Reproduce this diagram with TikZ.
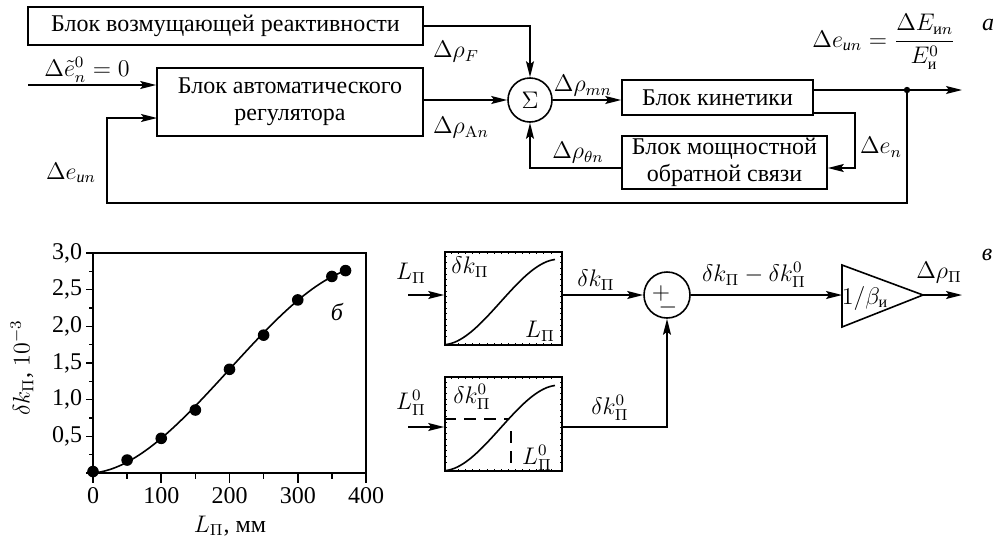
\documentclass[tikz,border=0pt]{standalone}
\usepackage{amsmath}
\usepackage[no-math]{fontspec}
\setmainfont{Liberation Serif}
\usetikzlibrary{arrows.meta,fit,calc}
\begin{document}
\begin{tikzpicture}[x=0.5pt,y=-0.5pt,
  font=\fontsize{12}{13.5}\selectfont,
  line width=0.8pt,
  >={Stealth[length=8pt,width=4pt,inset=1.5pt]},
  blk/.style={draw, inner sep=0pt},
  txt/.style={inner sep=0pt, align=center},
  lbl/.style={inner sep=0pt},
  sumc/.style={draw, circle, minimum size=22pt, inner sep=0pt},
  dashln/.style={line width=1.1pt, dash pattern=on 6pt off 4pt},
  tk/.style={line width=0.4pt}]
\useasboundingbox (0,0) rectangle (999,541);

% ---------------- part a ----------------
\node[blk, fit={(28,7) (423,45)}] (b1) {};
\node[txt] (b1t) at (b1.center) {Блок возмущающей реактивности};
\node[blk, fit={(157,68) (423,136)}] (b2) {};
\node[txt] (b2t) at (b2.center) {Блок автоматического\\регулятора};
\node[sumc] (s) at (530,100) {$\Sigma$};
\node[blk, fit={(622,80) (813,115)}] (b3) {};
\node[txt] (b3t) at (b3.center) {Блок кинетики};
\node[blk, fit={(622,136) (827,189)}] (b4) {};
\node[txt] (b4t) at (b4.center) {Блок мощностной\\обратной связи};

\coordinate (in1) at (28,85);
\coordinate (J) at (907,90);
\coordinate (out1) at (962,90);
\coordinate (fbR) at (907,203);
\coordinate (fbL) at (107,203);
\coordinate (fbin) at (157,118);
\coordinate (k1) at (855,113);
\coordinate (k2) at (855,168);
\coordinate (m1) at (530,168);

\draw[->] (b1.east) -| (s.north);
\draw[->] (in1) -- (in1 -| b2.west);
\draw[->] (J) -- (fbR) -- (fbL) |- (fbin);
\draw[->] (b2.east |- s.west) -- (s.west);
\draw[->] (s.east) -- (s.east -| b3.west);
\draw[->] (b3.east |- J) -- (out1);
\fill (J) circle (1.6pt);
\draw[->] (b3.east |- k1) -- (k1) -- (k2) -- (k2 -| b4.east);
\draw[->] (k2 -| b4.west) -- (m1) -- (s.south);

\node[lbl] (lF) at (456,52) {$\Delta\rho_F$};
\node[lbl] (lE0) at (87,70) {$\Delta\tilde e_n^0 = 0$};
\node[lbl] (lEin) at (71,173) {$\Delta e_{\text{\itshape и}n}$};
\node[lbl] (lA) at (461,128) {$\Delta\rho_{\mathrm{A}n}$};
\node[lbl] (lm) at (583,86) {$\Delta\rho_{mn}$};
\node[lbl] (lth) at (578,153) {$\Delta\rho_{\theta n}$};
\node[lbl] (len) at (881,147) {$\Delta e_n$};
\node[lbl] (lfr) at (884,42) {$\Delta e_{\text{\itshape и}n} = \dfrac{\Delta E_{\text{и}n}}{E^0_{\text{и}}}$};
\node[lbl] (la) at (988,25) {\itshape а};

% ---------------- part b ----------------
\begin{scope}[shift={(93,473)}, x=0.34125pt, y=36.667pt]
  \draw (0,0) rectangle (400,3);
  \foreach \v in {0,0.5,...,3} \draw (0,\v) -- ++(-3.5pt,0);
  \foreach \v in {0.25,0.75,...,2.75} \draw (0,\v) -- ++(-2pt,0);
  \foreach \u in {0,100,...,400} \draw (\u,0) -- ++(0,-5pt);
  \foreach \u in {50,150,...,350} \draw (\u,0) -- ++(0,-3pt);
  \foreach \u in {0,100,...,400} \node[lbl, anchor=north] at ([yshift=-7pt]\u,0) {\u};
  \node[lbl, anchor=east] (y05) at ([xshift=-5pt]0,0.5) {0,5};
  \node[lbl, anchor=east] (y10) at ([xshift=-5pt]0,1) {1,0};
  \node[lbl, anchor=east] (y15) at ([xshift=-5pt]0,1.5) {1,5};
  \node[lbl, anchor=east] (y20) at ([xshift=-5pt]0,2) {2,0};
  \node[lbl, anchor=east] (y25) at ([xshift=-5pt]0,2.5) {2,5};
  \node[lbl, anchor=east] (y30) at ([xshift=-5pt]0,3) {3,0};
  \draw plot[domain=4:370, samples=70, smooth] (\x, {0.0827*\x/100 + 0.4685*(\x/100)^2 - 0.07818*(\x/100)^3});
  \foreach \p in {(0,0.02),(50,0.177),(100,0.473),(150,0.859),(200,1.414),(250,1.88),(300,2.36),(350,2.68),(370,2.76)}
    \fill \p circle (2.9pt);
\end{scope}
\node[lbl, rotate=90] (ylab) at (22,368) {$\delta k_\Pi$, $10^{-3}$};
\node[lbl] (xlab) at (230,526) {$L_\Pi$, мм};
\node[lbl] (lb) at (337,312) {\itshape б};

% ---------------- part v ----------------
\node[blk, fit={(445,252) (562,345)}] (pb1) {};
\node[blk, fit={(445,377) (562,471)}] (pb2) {};
\foreach \B in {pb1,pb2}{
  \foreach \t in {0.06,0.12,...,0.95}{
    \draw[tk] ($(\B.north west)!\t!(\B.north east)$) -- ++(0,-1.3pt);
    \draw[tk] ($(\B.south west)!\t!(\B.south east)$) -- ++(0,1.3pt);
    \draw[tk] ($(\B.north west)!\t!(\B.south west)$) -- ++(1.3pt,0);
    \draw[tk] ($(\B.north east)!\t!(\B.south east)$) -- ++(-1.3pt,0);
  }
}
\begin{scope}[shift={(446,344.5)}, x=54.5pt, y=42.5pt]
  \draw plot[domain=0:1, samples=40, smooth] (\x, {0.15*\x + 0.85*(3*\x*\x - 2*\x*\x*\x)});
\end{scope}
\begin{scope}[shift={(446,470.5)}, x=54.5pt, y=42.5pt]
  \draw plot[domain=0:1, samples=40, smooth] (\x, {0.15*\x + 0.85*(3*\x*\x - 2*\x*\x*\x)});
\end{scope}
\coordinate (dh) at (509,419);
\coordinate (dv) at (511,431);
\draw[dashln] (pb2.west |- dh) -- (dh);
\draw[dashln] (dv) -- (dv |- pb2.south);

\node[lbl] (t1a) at (470,267) {$\delta k_\Pi$};
\node[lbl] (t1b) at (540,331) {$L_\Pi$};
\node[lbl] (t2a) at (472,397) {$\delta k^0_\Pi$};
\node[lbl] (t2b) at (537,458) {$L^0_\Pi$};

\coordinate (i1) at (408,295);
\coordinate (i2) at (408,427);
\draw[->] (i1) -- (i1 -| pb1.west);
\draw[->] (i2) -- (i2 -| pb2.west);
\node[lbl] (li1) at (411,273) {$L_\Pi$};
\node[lbl] (li2) at (411,403) {$L^0_\Pi$};

\node[sumc, minimum size=23pt] (pm) at (667,295) {};
\node[lbl] (pls) at (661,293) {$+$};
\node[lbl] (mns) at (668,307) {$-$};
\draw[->] (pb1.east |- pm) -- (pm.west);
\coordinate (c2) at (667,427);
\draw[->] (pb2.east |- c2) -- (c2) -- (pm.south);
\node[lbl] (lk1) at (596,280) {$\delta k_\Pi$};
\node[lbl] (lk2) at (610,408) {$\delta k^0_\Pi$};

\coordinate (tw) at (842,295);
\coordinate (tt) at (923,295);
\draw (842,265) -- (tt) -- (842,327) -- cycle;
\node[lbl] (tb) at (865,298) {$1/\beta_{\text{и}}$};
\draw[->] (pm.east) -- (tw);
\node[lbl] (lk3) at (754,275) {$\delta k_\Pi - \delta k^0_\Pi$};
\coordinate (o2) at (962,295);
\draw[->] (tt) -- (o2);
\node[lbl] (lP) at (939,273) {$\Delta\rho_\Pi$};
\node[lbl] (lv) at (987,255) {\itshape в};
\end{tikzpicture}
\end{document}
